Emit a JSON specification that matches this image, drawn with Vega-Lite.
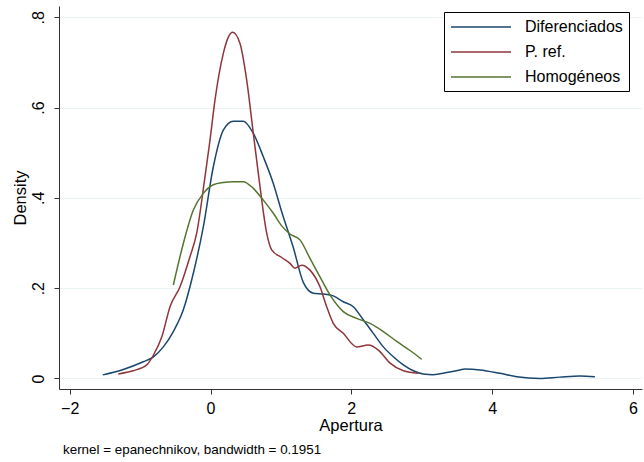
{
  "$schema": "https://vega.github.io/schema/vega-lite/v6.json",
  "width": 583,
  "height": 383,
  "autosize": "none",
  "padding": {"left": 59, "top": 6, "right": 2, "bottom": 73},
  "background": "white",
  "config": {
    "font": "Liberation Sans",
    "view": {"stroke": null}
  },
  "title": {
    "text": "kernel = epanechnikov, bandwidth = 0.1951",
    "orient": "bottom",
    "anchor": "start",
    "frame": "group",
    "fontSize": 13.4,
    "fontWeight": "normal",
    "color": "black",
    "offset": 9,
    "dx": 4
  },
  "data": {
    "values": [
      {"g": "Diferenciados", "x": -1.53, "y": 0.008},
      {"g": "Diferenciados", "x": -1.24, "y": 0.020},
      {"g": "Diferenciados", "x": -0.955, "y": 0.037},
      {"g": "Diferenciados", "x": -0.81, "y": 0.048},
      {"g": "Diferenciados", "x": -0.67, "y": 0.070},
      {"g": "Diferenciados", "x": -0.528, "y": 0.104},
      {"g": "Diferenciados", "x": -0.386, "y": 0.152},
      {"g": "Diferenciados", "x": -0.244, "y": 0.233},
      {"g": "Diferenciados", "x": -0.102, "y": 0.336},
      {"g": "Diferenciados", "x": 0.04, "y": 0.469},
      {"g": "Diferenciados", "x": 0.182, "y": 0.550},
      {"g": "Diferenciados", "x": 0.324, "y": 0.570},
      {"g": "Diferenciados", "x": 0.466, "y": 0.570},
      {"g": "Diferenciados", "x": 0.608, "y": 0.543},
      {"g": "Diferenciados", "x": 0.75, "y": 0.491},
      {"g": "Diferenciados", "x": 0.892, "y": 0.432},
      {"g": "Diferenciados", "x": 1.01, "y": 0.370},
      {"g": "Diferenciados", "x": 1.176, "y": 0.290},
      {"g": "Diferenciados", "x": 1.318, "y": 0.213},
      {"g": "Diferenciados", "x": 1.46, "y": 0.189},
      {"g": "Diferenciados", "x": 1.602, "y": 0.187},
      {"g": "Diferenciados", "x": 1.744, "y": 0.183},
      {"g": "Diferenciados", "x": 1.886, "y": 0.170},
      {"g": "Diferenciados", "x": 2.028, "y": 0.159},
      {"g": "Diferenciados", "x": 2.17, "y": 0.130},
      {"g": "Diferenciados", "x": 2.312, "y": 0.100},
      {"g": "Diferenciados", "x": 2.455, "y": 0.070},
      {"g": "Diferenciados", "x": 2.597, "y": 0.048},
      {"g": "Diferenciados", "x": 2.739, "y": 0.030},
      {"g": "Diferenciados", "x": 2.881, "y": 0.017},
      {"g": "Diferenciados", "x": 3.023, "y": 0.010},
      {"g": "Diferenciados", "x": 3.165, "y": 0.0085},
      {"g": "Diferenciados", "x": 3.355, "y": 0.013},
      {"g": "Diferenciados", "x": 3.544, "y": 0.019},
      {"g": "Diferenciados", "x": 3.615, "y": 0.021},
      {"g": "Diferenciados", "x": 3.83, "y": 0.019},
      {"g": "Diferenciados", "x": 4.11, "y": 0.0115},
      {"g": "Diferenciados", "x": 4.35, "y": 0.004},
      {"g": "Diferenciados", "x": 4.68, "y": 0.0},
      {"g": "Diferenciados", "x": 4.96, "y": 0.003},
      {"g": "Diferenciados", "x": 5.25, "y": 0.0055},
      {"g": "Diferenciados", "x": 5.46, "y": 0.004},
      {"g": "P. ref.", "x": -1.31, "y": 0.010},
      {"g": "P. ref.", "x": -1.10, "y": 0.017},
      {"g": "P. ref.", "x": -0.906, "y": 0.030},
      {"g": "P. ref.", "x": -0.81, "y": 0.052},
      {"g": "P. ref.", "x": -0.69, "y": 0.093},
      {"g": "P. ref.", "x": -0.575, "y": 0.159},
      {"g": "P. ref.", "x": -0.433, "y": 0.203},
      {"g": "P. ref.", "x": -0.291, "y": 0.270},
      {"g": "P. ref.", "x": -0.196, "y": 0.322},
      {"g": "P. ref.", "x": -0.078, "y": 0.447},
      {"g": "P. ref.", "x": -0.007, "y": 0.528},
      {"g": "P. ref.", "x": 0.064, "y": 0.617},
      {"g": "P. ref.", "x": 0.182, "y": 0.720},
      {"g": "P. ref.", "x": 0.25, "y": 0.755},
      {"g": "P. ref.", "x": 0.315, "y": 0.767},
      {"g": "P. ref.", "x": 0.419, "y": 0.742},
      {"g": "P. ref.", "x": 0.514, "y": 0.661},
      {"g": "P. ref.", "x": 0.608, "y": 0.543},
      {"g": "P. ref.", "x": 0.703, "y": 0.425},
      {"g": "P. ref.", "x": 0.798, "y": 0.322},
      {"g": "P. ref.", "x": 0.869, "y": 0.285},
      {"g": "P. ref.", "x": 1.011, "y": 0.268},
      {"g": "P. ref.", "x": 1.129, "y": 0.255},
      {"g": "P. ref.", "x": 1.2, "y": 0.244},
      {"g": "P. ref.", "x": 1.295, "y": 0.251},
      {"g": "P. ref.", "x": 1.413, "y": 0.240},
      {"g": "P. ref.", "x": 1.555, "y": 0.203},
      {"g": "P. ref.", "x": 1.65, "y": 0.159},
      {"g": "P. ref.", "x": 1.744, "y": 0.122},
      {"g": "P. ref.", "x": 1.886, "y": 0.100},
      {"g": "P. ref.", "x": 2.076, "y": 0.070},
      {"g": "P. ref.", "x": 2.242, "y": 0.074},
      {"g": "P. ref.", "x": 2.384, "y": 0.063},
      {"g": "P. ref.", "x": 2.55, "y": 0.034},
      {"g": "P. ref.", "x": 2.74, "y": 0.017},
      {"g": "P. ref.", "x": 2.95, "y": 0.0115},
      {"g": "Homogéneos", "x": -0.528, "y": 0.207},
      {"g": "Homogéneos", "x": -0.386, "y": 0.299},
      {"g": "Homogéneos", "x": -0.244, "y": 0.373},
      {"g": "Homogéneos", "x": -0.102, "y": 0.410},
      {"g": "Homogéneos", "x": 0.04, "y": 0.429},
      {"g": "Homogéneos", "x": 0.182, "y": 0.434},
      {"g": "Homogéneos", "x": 0.324, "y": 0.436},
      {"g": "Homogéneos", "x": 0.466, "y": 0.436},
      {"g": "Homogéneos", "x": 0.608, "y": 0.421},
      {"g": "Homogéneos", "x": 0.75, "y": 0.395},
      {"g": "Homogéneos", "x": 0.892, "y": 0.366},
      {"g": "Homogéneos", "x": 1.011, "y": 0.338},
      {"g": "Homogéneos", "x": 1.129, "y": 0.320},
      {"g": "Homogéneos", "x": 1.271, "y": 0.307},
      {"g": "Homogéneos", "x": 1.413, "y": 0.266},
      {"g": "Homogéneos", "x": 1.555, "y": 0.225},
      {"g": "Homogéneos", "x": 1.697, "y": 0.185},
      {"g": "Homogéneos", "x": 1.886, "y": 0.148},
      {"g": "Homogéneos", "x": 2.076, "y": 0.133},
      {"g": "Homogéneos", "x": 2.266, "y": 0.122},
      {"g": "Homogéneos", "x": 2.455, "y": 0.104},
      {"g": "Homogéneos", "x": 2.645, "y": 0.082},
      {"g": "Homogéneos", "x": 2.834, "y": 0.062},
      {"g": "Homogéneos", "x": 3.0, "y": 0.0425}
    ]
  },
  "mark": {"type": "line", "strokeWidth": 1.5, "interpolate": "monotone"},
  "encoding": {
    "x": {
      "field": "x",
      "type": "quantitative",
      "scale": {"domain": [-2.152, 6.129], "nice": false, "zero": false},
      "axis": {
        "title": "Apertura",
        "values": [-2, 0, 2, 4, 6],
        "grid": false,
        "domainColor": "#333333",
        "tickColor": "#333333",
        "tickSize": 5,
        "labelFontSize": 16,
        "labelColor": "black",
        "labelPadding": 6,
        "titleFontSize": 16.5,
        "titleFontWeight": "normal",
        "titleColor": "black",
        "titlePadding": 1
      }
    },
    "y": {
      "field": "y",
      "type": "quantitative",
      "scale": {"domain": [-0.0233, 0.825], "nice": false, "zero": false},
      "axis": {
        "title": "Density",
        "values": [0, 0.2, 0.4, 0.6, 0.8],
        "labelExpr": "datum.value == 0 ? '0' : replace(format(datum.value, '.1f'), '0.', '.')",
        "grid": true,
        "gridColor": "#eaf2f3",
        "gridWidth": 1,
        "domainColor": "#333333",
        "tickColor": "#333333",
        "tickSize": 5,
        "labelAngle": -90,
        "labelAlign": "center",
        "labelBaseline": "bottom",
        "labelFontSize": 16,
        "labelColor": "black",
        "labelPadding": 8,
        "titleFontSize": 16.5,
        "titleFontWeight": "normal",
        "titleColor": "black",
        "titlePadding": 2
      }
    },
    "color": {
      "field": "g",
      "type": "nominal",
      "scale": {
        "domain": ["Diferenciados", "P. ref.", "Homogéneos"],
        "range": ["#1a476f", "#90353b", "#55752f"]
      },
      "legend": {
        "title": null,
        "orient": "none",
        "legendX": 385,
        "legendY": 6,
        "symbolType": "M-3.75,0H3.75",
        "symbolSize": 256,
        "symbolOffset": 22,
        "symbolStrokeWidth": 1.5,
        "labelFontSize": 16,
        "labelColor": "black",
        "labelOffset": 35,
        "strokeColor": "black",
        "padding": 6,
        "rowPadding": 8,
        "fillColor": "white"
      }
    }
  }
}
